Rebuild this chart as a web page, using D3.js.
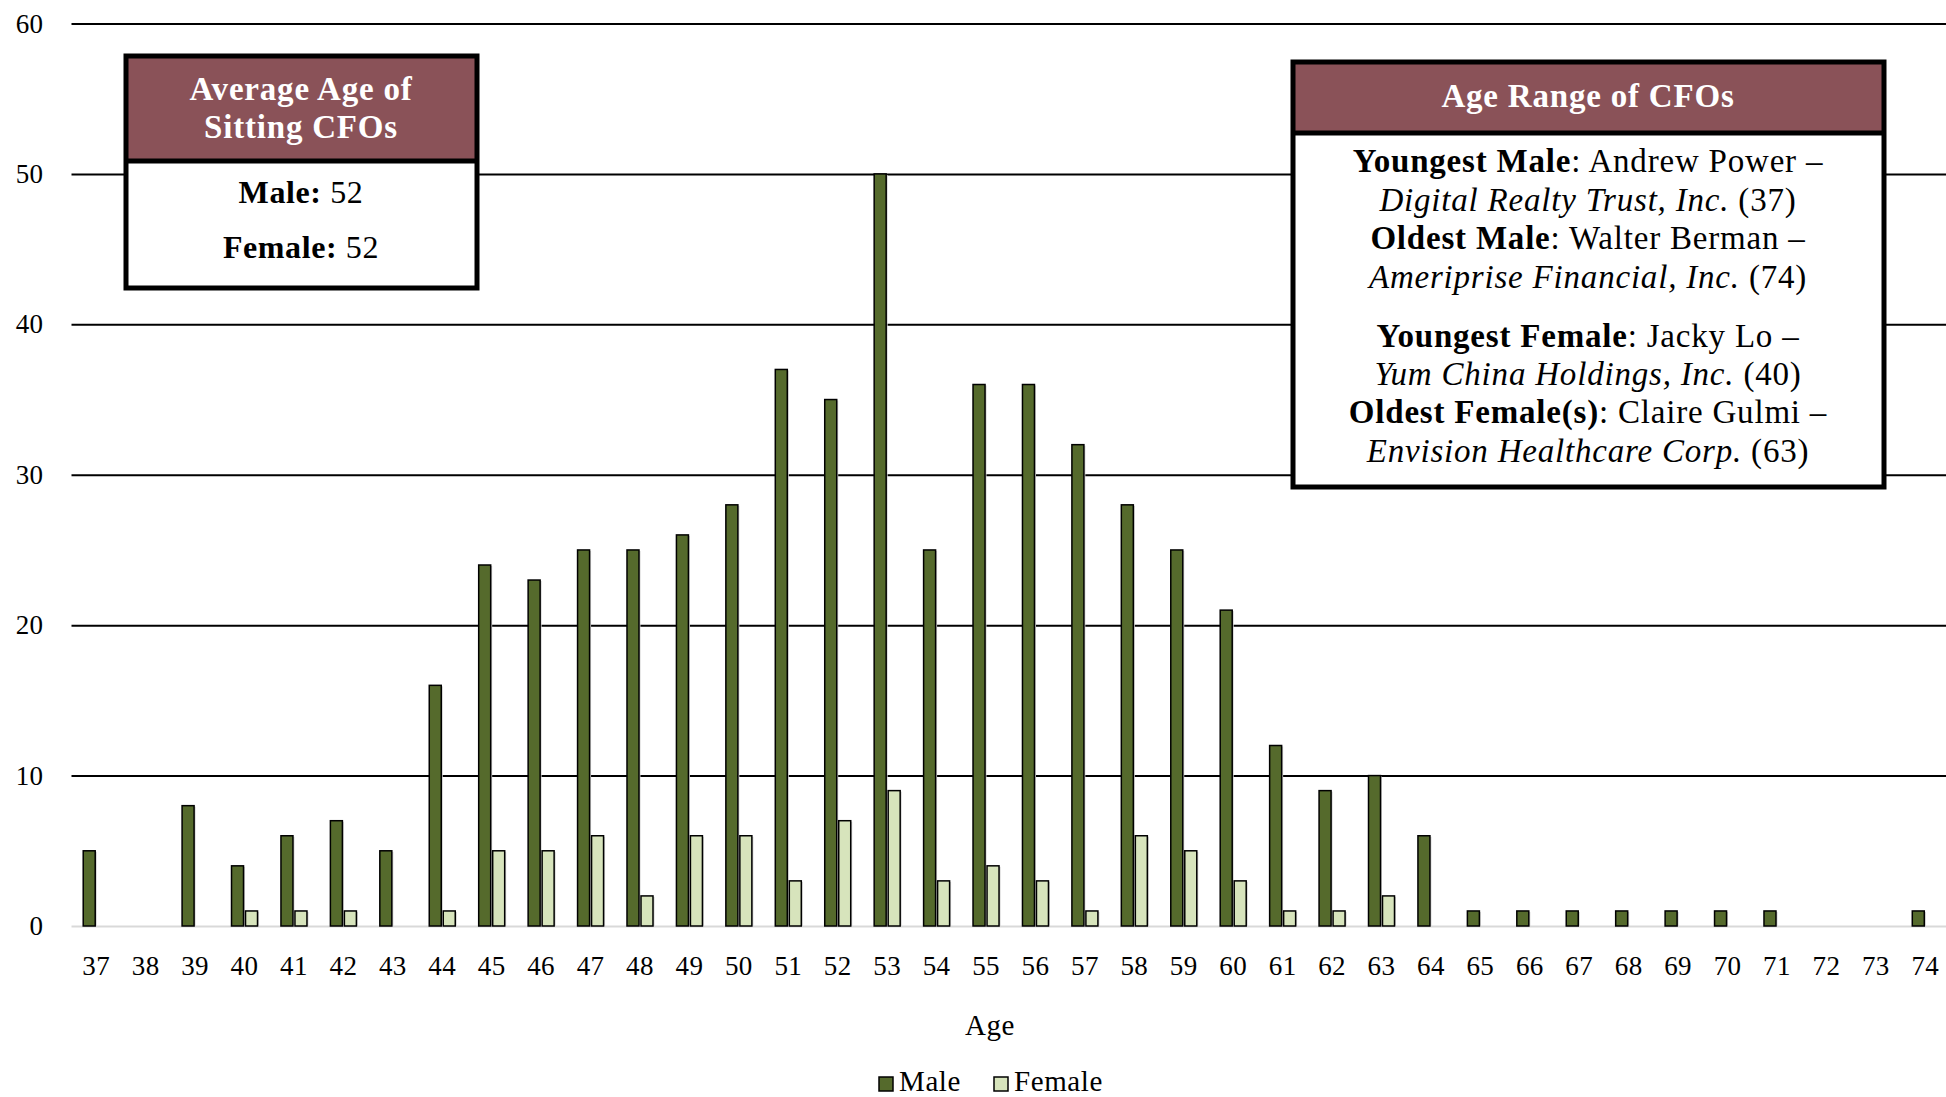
<!DOCTYPE html>
<html>
<head>
<meta charset="utf-8">
<script src="https://cdn.jsdelivr.net/npm/d3@7"></script>
<style>
  html, body { margin: 0; padding: 0; background: #fff; }
  svg { display: block; }
  text { font-family: "Palatino Linotype", "Book Antiqua", Palatino, "Liberation Serif", serif; }
</style>
</head>
<body>
<svg id="chart" width="1946" height="1097"></svg>
<script>
// ---- data ----
const ages = [37,38,39,40,41,42,43,44,45,46,47,48,49,50,51,52,53,54,55,56,57,58,59,60,61,62,63,64,65,66,67,68,69,70,71,72,73,74];
const maleCounts   = [5,0,8,4,6,7,5,16,24,23,25,25,26,28,37,35,50,25,36,36,32,28,25,21,12,9,10,6,1,1,1,1,1,1,1,0,0,1];
const femaleCounts = [0,0,0,1,1,1,0,1,5,5,6,2,6,6,3,7,9,3,4,3,1,6,5,3,1,1,2,0,0,0,0,0,0,0,0,0,0,0];
const yTicks = [0,10,20,30,40,50,60];
const seriesNames = ["Male", "Female"];
const xTitle = "Age";
const avgTitle = ["Average Age of", "Sitting CFOs"];
const avgLines = [["Male:", " 52"], ["Female:", " 52"]];
const rangeTitle = "Age Range of CFOs";
const rangeLines = [
  [["b","Youngest Male"],["r",": Andrew Power –"]],
  [["i","Digital Realty Trust, Inc."],["r"," (37)"]],
  [["b","Oldest Male"],["r",": Walter Berman –"]],
  [["i","Ameriprise Financial, Inc."],["r"," (74)"]],
  [["b","Youngest Female"],["r",": Jacky Lo –"]],
  [["i","Yum China Holdings, Inc."],["r"," (40)"]],
  [["b","Oldest Female(s)"],["r",": Claire Gulmi –"]],
  [["i","Envision Healthcare Corp."],["r"," (63)"]]
];

// ---- style ----
const MALE = "#556a2c", FEMALE = "#d7e4bc", HEAD = "#8a5258";
const FONT = "'Palatino Linotype','Book Antiqua',Palatino,'Liberation Serif',serif";

const svg = d3.select("#chart");
const plotLeft = 71.5, plotRight = 1950, plotTop = 23.5, plotBottom = 926;

const x = d3.scaleBand().domain(ages).range([plotLeft, plotRight]).paddingInner(0).paddingOuter(0);
const y = d3.scaleLinear().domain([0, 60]).range([plotBottom, plotTop]);

// gridlines + y labels
const yAxis = svg.append("g").attr("transform", `translate(${plotLeft},0)`)
  .call(d3.axisLeft(y).tickValues(yTicks).tickSize(-(1946 - plotLeft)).tickPadding(28).tickFormat(d3.format("d")));
yAxis.select(".domain").remove();
yAxis.selectAll(".tick line").attr("stroke", d => d === 0 ? "#d9d9d9" : "#000").attr("stroke-width", 2);
yAxis.selectAll(".tick text").attr("font-size", 27).attr("letter-spacing", 0.4).attr("font-family", FONT).attr("fill", "#000");

// x axis labels
const xAxis = svg.append("g").attr("transform", `translate(0,${plotBottom})`)
  .call(d3.axisBottom(x).tickSize(0).tickPadding(30));
xAxis.select(".domain").remove();
xAxis.selectAll(".tick text").attr("font-size", 27).attr("letter-spacing", 0.4).attr("font-family", FONT).attr("fill", "#000");

// bars
const barW = 12;
const data = ages.map((a, i) => ({ age: a, m: maleCounts[i], f: femaleCounts[i] }));
const bars = svg.append("g");
function drawSeries(key, color, offset) {
  const d2 = data.filter(d => d[key] > 0);
  bars.selectAll(null).data(d2).enter().append("rect")
    .attr("x", d => x(d.age) + x.bandwidth() / 2 + offset + barW)
    .attr("y", d => y(d[key]) + 1)
    .attr("width", 1.5)
    .attr("height", d => plotBottom - y(d[key]) - 1)
    .attr("fill", "#cfcfcf");
  bars.selectAll(null).data(d2).enter().append("rect")
    .attr("x", d => x(d.age) + x.bandwidth() / 2 + offset)
    .attr("y", d => y(d[key]))
    .attr("width", barW)
    .attr("height", d => plotBottom - y(d[key]))
    .attr("fill", color)
    .attr("stroke", "#000")
    .attr("stroke-width", 1.5);
}
drawSeries("m", MALE, -13);
drawSeries("f", FEMALE, 1);

// x title
svg.append("text").attr("x", 990).attr("y", 1035).attr("text-anchor", "middle")
  .attr("font-size", 29).attr("letter-spacing", 0.5).attr("font-family", FONT).text(xTitle);

// legend
const legend = svg.append("g");
const legItems = [{ name: seriesNames[0], color: MALE, x: 879 }, { name: seriesNames[1], color: FEMALE, x: 994 }];
legItems.forEach(it => {
  legend.append("rect").attr("x", it.x).attr("y", 1077).attr("width", 14).attr("height", 14)
    .attr("fill", it.color).attr("stroke", "#000").attr("stroke-width", 1.5);
  legend.append("text").attr("x", it.x + 20).attr("y", 1091).attr("font-size", 29)
    .attr("letter-spacing", 0.6).attr("font-family", FONT).text(it.name);
});

// ---- boxes ----
function box(x0, y0, x1, y1, headBottom) {
  const g = svg.append("g");
  g.append("rect").attr("x", x0).attr("y", y0).attr("width", x1 - x0).attr("height", y1 - y0)
    .attr("fill", "#fff");
  g.append("rect").attr("x", x0).attr("y", y0).attr("width", x1 - x0).attr("height", headBottom - y0)
    .attr("fill", HEAD);
  g.append("line").attr("x1", x0).attr("x2", x1).attr("y1", headBottom).attr("y2", headBottom)
    .attr("stroke", "#000").attr("stroke-width", 5);
  g.append("rect").attr("x", x0).attr("y", y0).attr("width", x1 - x0).attr("height", y1 - y0)
    .attr("fill", "none").attr("stroke", "#000").attr("stroke-width", 5);
  return g;
}

const b1 = box(126, 56, 477, 288, 161);
avgTitle.forEach((t, i) => {
  b1.append("text").attr("x", 301).attr("y", 100 + i * 38).attr("text-anchor", "middle")
    .attr("font-size", 33).attr("letter-spacing", 0.8).attr("font-weight", "bold").attr("fill", "#fff")
    .attr("font-family", FONT).text(t);
});
avgLines.forEach((l, i) => {
  const t = b1.append("text").attr("x", 301).attr("y", 203 + i * 55).attr("text-anchor", "middle")
    .attr("font-size", 32).attr("letter-spacing", 0.6).attr("font-family", FONT).attr("fill", "#000");
  t.append("tspan").attr("font-weight", "bold").text(l[0]);
  t.append("tspan").text(l[1]);
});

const b2 = box(1293, 62, 1884, 487, 133);
b2.append("text").attr("x", 1588).attr("y", 107).attr("text-anchor", "middle")
  .attr("font-size", 33).attr("letter-spacing", 0.8).attr("font-weight", "bold").attr("fill", "#fff")
  .attr("font-family", FONT).text(rangeTitle);
const baselines = [172, 211, 249, 288, 347, 385, 423, 462];
rangeLines.forEach((parts, i) => {
  const t = b2.append("text").attr("x", 1588).attr("y", baselines[i]).attr("text-anchor", "middle")
    .attr("font-size", 33).attr("letter-spacing", 0.8).attr("font-family", FONT).attr("fill", "#000");
  parts.forEach(p => {
    const s = t.append("tspan").text(p[1]);
    if (p[0] === "b") s.attr("font-weight", "bold");
    if (p[0] === "i") s.attr("font-style", "italic");
  });
});
</script>
</body>
</html>
